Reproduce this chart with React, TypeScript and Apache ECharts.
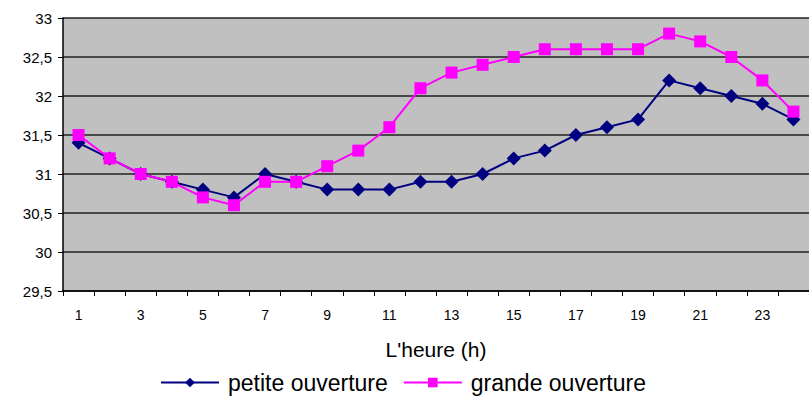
import React, { useEffect, useRef } from "react";
import * as echarts from "echarts";

const hours = ["1","2","3","4","5","6","7","8","9","10","11","12","13","14","15","16","17","18","19","20","21","22","23","24"];
const petite = [31.4,31.2,31.0,30.9,30.8,30.7,31.0,30.9,30.8,30.8,30.8,30.9,30.9,31.0,31.2,31.3,31.5,31.6,31.7,32.2,32.1,32.0,31.9,31.7];
const grande = [31.5,31.2,31.0,30.9,30.7,30.6,30.9,30.9,31.1,31.3,31.6,32.1,32.3,32.4,32.5,32.6,32.6,32.6,32.6,32.8,32.7,32.5,32.2,31.8];

export default function App() {
  const ref = useRef<HTMLDivElement>(null);
  useEffect(() => {
    const chart = echarts.init(ref.current!, null, { renderer: "svg" });
    const font = "'Liberation Sans', Arial, sans-serif";
    chart.setOption({
      animation: false,
      textStyle: { fontFamily: font },
      grid: { left: 63, top: 18, right: -11, bottom: 109, show: true, backgroundColor: "#c0c0c0", borderWidth: 0 },
      legend: {
        top: 366,
        left: 155,
        padding: 5,
        itemWidth: 58,
        itemHeight: 12,
        itemGap: 15,
        textStyle: { fontSize: 23, color: "#000", fontFamily: font, padding: [0, 0, 0, 4] },
        data: ["petite ouverture", "grande ouverture"],
      },
      xAxis: {
        type: "category",
        data: hours,
        boundaryGap: true,
        name: "L'heure (h)",
        nameLocation: "middle",
        nameGap: 48,
        nameTextStyle: { fontSize: 21, color: "#000" },
        axisLine: { lineStyle: { color: "#000", width: 1.5 } },
        axisTick: { show: true, interval: 0, length: 5, lineStyle: { color: "#000" } },
        axisLabel: { interval: 1, fontSize: 14, color: "#000", margin: 17 },
        splitLine: { show: false },
      },
      yAxis: {
        type: "value",
        min: 29.5,
        max: 33,
        interval: 0.5,
        axisLine: { show: true, lineStyle: { color: "#000", width: 1.5 } },
        axisTick: { show: true, length: 5, lineStyle: { color: "#000" } },
        axisLabel: { fontSize: 15, color: "#000", margin: 11, formatter: (v: number) => String(v).replace(".", ",") },
        splitLine: { show: true, lineStyle: { color: "#222", width: 1.5 } },
      },
      series: [
        {
          name: "petite ouverture",
          type: "line",
          data: petite,
          symbol: "diamond",
          symbolSize: 14,
          itemStyle: { color: "#000080" },
          lineStyle: { color: "#000080", width: 2 },
        },
        {
          name: "grande ouverture",
          type: "line",
          data: grande,
          symbol: "rect",
          symbolSize: 12,
          itemStyle: { color: "#ff00ff" },
          lineStyle: { color: "#ff00ff", width: 2 },
        },
      ],
    });
    return () => chart.dispose();
  }, []);
  return <div ref={ref} style={{ width: 809, height: 400, position: "absolute", left: 0, top: 0, background: "#fff" }} />;
}
